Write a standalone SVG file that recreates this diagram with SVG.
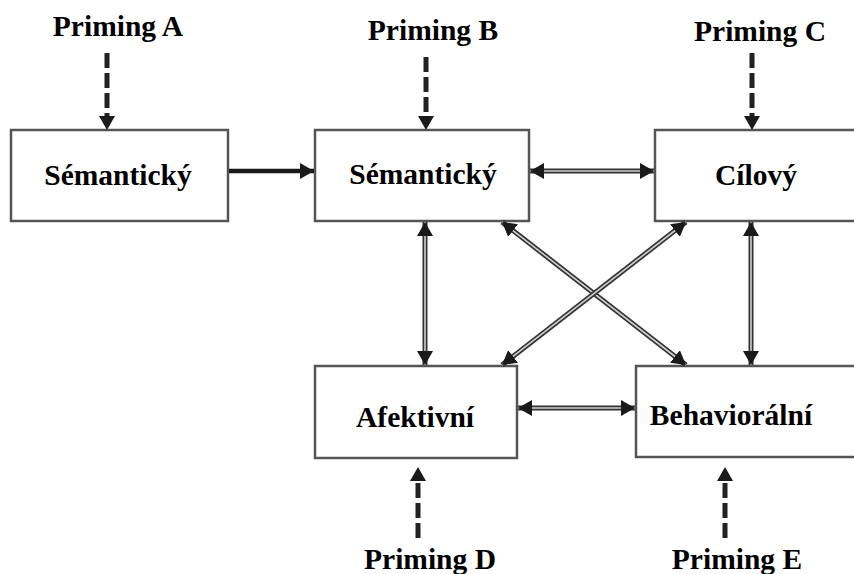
<svg xmlns="http://www.w3.org/2000/svg" width="854" height="574" viewBox="0 0 854 574">
  <style>
    .box { fill: #ffffff; stroke: #555555; stroke-width: 2.5; }
    .label { font-family: "Liberation Serif", "Times New Roman", serif; font-weight: bold; font-size: 29.5px; fill: #000000; text-anchor: middle; }
    .dash { stroke: #222222; stroke-width: 5; stroke-dasharray: 15 5; fill: none; }
    .solid { stroke: #1a1a1a; stroke-width: 4.5; fill: none; }
    .dbl-outer { stroke: #333333; stroke-width: 5; fill: none; }
    .dbl-inner { stroke: #cfcfcf; stroke-width: 1.6; fill: none; }
  </style>
  <defs>
    <marker id="head" viewBox="0 0 14 16" refX="14" refY="8" markerWidth="14" markerHeight="16" markerUnits="userSpaceOnUse" orient="auto-start-reverse">
      <path d="M0,0 L14,8 L0,16 Z" fill="#1a1a1a"/>
    </marker>
  </defs>

  <rect width="854" height="574" fill="#ffffff"/>

  <!-- nodes -->
  <g id="node-semanticky-a">
    <rect class="box" x="11" y="130" width="217" height="91"/>
    <text class="label" x="118" y="185">Sémantický</text>
  </g>
  <g id="node-semanticky-b">
    <rect class="box" x="315" y="130" width="214" height="91"/>
    <text class="label" x="423" y="184">Sémantický</text>
  </g>
  <g id="node-cilovy">
    <rect class="box" x="655" y="130" width="210" height="91"/>
    <text class="label" x="756" y="185">Cílový</text>
  </g>
  <g id="node-afektivni">
    <rect class="box" x="315" y="366" width="202" height="92"/>
    <text class="label" x="415" y="427">Afektivní</text>
  </g>
  <g id="node-behavioralni">
    <rect class="box" x="636" y="366" width="230" height="91"/>
    <text class="label" x="731" y="425">Behaviorální</text>
  </g>

  <!-- priming labels -->
  <g id="priming-a"><text class="label" x="118" y="36">Priming A</text></g>
  <g id="priming-b"><text class="label" x="433" y="40">Priming B</text></g>
  <g id="priming-c"><text class="label" x="760" y="41">Priming C</text></g>
  <g id="priming-d"><text class="label" x="430" y="569">Priming D</text></g>
  <g id="priming-e"><text class="label" x="737" y="569">Priming E</text></g>

  <!-- connectors -->
  <g id="connectors">
    <!-- priming inputs (dashed) -->
    <line class="dash" x1="107" y1="53" x2="107" y2="117"/>
    <path d="M99,116 L115,116 L107,130 Z" fill="#1a1a1a"/>
    <line class="dash" x1="426" y1="57" x2="426" y2="117"/>
    <path d="M418,116 L434,116 L426,130 Z" fill="#1a1a1a"/>
    <line class="dash" x1="752" y1="53" x2="752" y2="117"/>
    <path d="M744,116 L760,116 L752,130 Z" fill="#1a1a1a"/>
    <line class="dash" x1="418" y1="538" x2="418" y2="479"/>
    <path d="M410,481 L426,481 L418,467 Z" fill="#1a1a1a"/>
    <line class="dash" x1="725" y1="538" x2="725" y2="479"/>
    <path d="M717,481 L733,481 L725,467 Z" fill="#1a1a1a"/>

    <!-- semantic A to semantic B -->
    <line class="solid" x1="229" y1="171" x2="314" y2="171" marker-end="url(#head)"/>

    <!-- bidirectional links -->
    <line class="dbl-outer" x1="530" y1="171" x2="654" y2="171"/>
    <line class="dbl-inner" x1="530" y1="171" x2="654" y2="171" marker-start="url(#head)" marker-end="url(#head)"/>

    <line class="dbl-outer" x1="518" y1="408" x2="635" y2="408"/>
    <line class="dbl-inner" x1="518" y1="408" x2="635" y2="408" marker-start="url(#head)" marker-end="url(#head)"/>

    <line class="dbl-outer" x1="425" y1="222" x2="425" y2="365"/>
    <line class="dbl-inner" x1="425" y1="222" x2="425" y2="365" marker-start="url(#head)" marker-end="url(#head)"/>

    <line class="dbl-outer" x1="751" y1="222" x2="751" y2="365"/>
    <line class="dbl-inner" x1="751" y1="222" x2="751" y2="365" marker-start="url(#head)" marker-end="url(#head)"/>

    <line class="dbl-outer" x1="502" y1="222" x2="686" y2="365"/>
    <line class="dbl-inner" x1="502" y1="222" x2="686" y2="365" marker-start="url(#head)" marker-end="url(#head)"/>

    <line class="dbl-outer" x1="686" y1="222" x2="502" y2="365"/>
    <line class="dbl-inner" x1="686" y1="222" x2="502" y2="365" marker-start="url(#head)" marker-end="url(#head)"/>
  </g>
</svg>
